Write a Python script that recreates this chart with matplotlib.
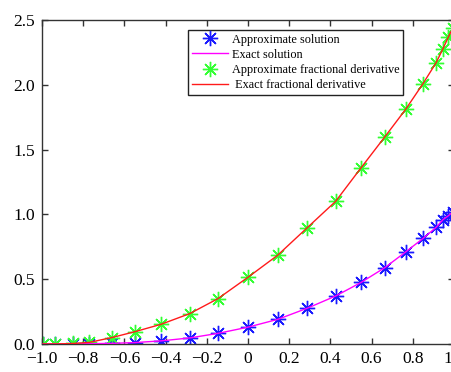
import matplotlib.pyplot as plt
from matplotlib.ticker import FixedLocator, FixedFormatter

# Data (collocation nodes and values)
nodes = [-0.995, -0.935, -0.850, -0.772, -0.660, -0.549, -0.422, -0.282, -0.146, 0.0,
         0.144, 0.286, 0.425, 0.549, 0.665, 0.765, 0.850, 0.913, 0.947, 0.973, 0.995]
approx_solution = [0.0, 0.0, 0.001, 0.002, 0.005, 0.011, 0.024, 0.047, 0.082, 0.130,
                   0.190, 0.275, 0.370, 0.475, 0.590, 0.710, 0.815, 0.900, 0.960, 0.990, 1.020]
exact_solution = approx_solution
approx_frac_deriv = [0.0, 0.0, 0.004, 0.012, 0.050, 0.095, 0.152, 0.235, 0.350, 0.515,
                     0.685, 0.895, 1.100, 1.360, 1.600, 1.810, 2.010, 2.170, 2.280, 2.370, 2.440]
exact_frac_deriv = approx_frac_deriv

xticks = [-1.0, -0.8, -0.6, -0.4, -0.2, 0, 0.2, 0.4, 0.6, 0.8, 1.0]
xticklabels = ['\u22121.0', '\u22120.8', '\u22120.6', '\u22120.4', '\u22120.2', '0',
               '0.2', '0.4', '0.6', '0.8', '1.0']
yticks = [0.0, 0.5, 1.0, 1.5, 2.0, 2.5]
yticklabels = ['0.0', '0.5', '1.0', '1.5', '2.0', '2.5']

plt.rcParams['font.family'] = ['Liberation Serif', 'DejaVu Serif']

fig = plt.figure(figsize=(4.51, 3.72), dpi=100)
# axes runs a bit past the right edge, as in the cropped original
ax = fig.add_axes([42 / 451, 28 / 372, 412 / 451, 324 / 372])

star = (8, 2, 0)  # MATLAB-like asterisk
h1, = ax.plot(nodes, approx_solution, linestyle='none', marker=star, markersize=11,
              markeredgewidth=1.0, color='#1a1aff', label='Approximate solution', zorder=2)
h2, = ax.plot(nodes, exact_solution, color='#ff00ff', linewidth=1.0,
              label='Exact solution', zorder=3)
h3, = ax.plot(nodes, approx_frac_deriv, linestyle='none', marker=star, markersize=11,
              markeredgewidth=1.0, color='#33ff33', label='Approximate fractional derivative', zorder=2)
h4, = ax.plot(nodes, exact_frac_deriv, color='#ff1a1a', linewidth=1.0,
              label=' Exact fractional derivative', zorder=3)

ax.set_xlim(-1.0, 1.0)
ax.set_ylim(0.0, 2.5)
ax.xaxis.set_major_locator(FixedLocator(xticks))
ax.xaxis.set_major_formatter(FixedFormatter(xticklabels))
ax.yaxis.set_major_locator(FixedLocator(yticks))
ax.yaxis.set_major_formatter(FixedFormatter(yticklabels))
ax.tick_params(direction='in', top=True, right=True, length=4, width=1,
               labelsize=12.5, color='#333333', pad=5)
for sp in ax.spines.values():
    sp.set_color('#333333')
    sp.set_linewidth(1.0)

leg = ax.legend(handles=[h1, h2, h3, h4], loc='upper left',
                bbox_to_anchor=(0.354, 0.969), borderaxespad=0, fontsize=8.8,
                frameon=True, fancybox=False, edgecolor='#222222',
                handlelength=3.0, handletextpad=0.3, labelspacing=0.25,
                borderpad=0.3, framealpha=1)
leg.get_frame().set_linewidth(1.0)

fig.savefig('out.png', dpi=100)
